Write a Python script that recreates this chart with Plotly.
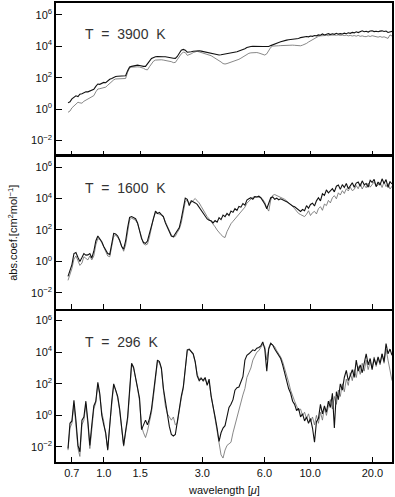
import plotly.graph_objects as go
from plotly.subplots import make_subplots

# wavelength grid in micron
wavelength = [
    0.671, 0.686, 0.701, 0.717, 0.733, 0.750, 0.766, 0.784, 0.801, 0.819,
    0.838, 0.856, 0.875, 0.895, 0.915, 0.936, 0.956, 0.978, 1.000, 1.022,
    1.045, 1.069, 1.093, 1.117, 1.142, 1.168, 1.194, 1.221, 1.248, 1.276,
    1.305, 1.334, 1.364, 1.394, 1.426, 1.458, 1.490, 1.524, 1.558, 1.593,
    1.628, 1.665, 1.703, 1.741, 1.780, 1.820, 1.860, 1.902, 1.945, 1.988,
    2.033, 2.078, 2.125, 2.173, 2.222, 2.271, 2.322, 2.374, 2.428, 2.482,
    2.538, 2.595, 2.653, 2.712, 2.773, 2.835, 2.899, 2.964, 3.030, 3.098,
    3.168, 3.238, 3.311, 3.385, 3.461, 3.539, 3.618, 3.699, 3.782, 3.867,
    3.954, 4.042, 4.133, 4.226, 4.320, 4.418, 4.516, 4.617, 4.721, 4.827,
    4.935, 5.045, 5.159, 5.274, 5.392, 5.513, 5.637, 5.763, 5.892, 6.025,
    6.160, 6.297, 6.439, 6.583, 6.730, 6.881, 7.036, 7.194, 7.354, 7.519,
    7.688, 7.861, 8.037, 8.219, 8.403, 8.591, 8.784, 8.981, 9.182, 9.389,
    9.598, 9.813, 10.03, 10.26, 10.49, 10.72, 10.96, 11.21, 11.46, 11.72,
    11.98, 12.25, 12.52, 12.81, 13.09, 13.39, 13.69, 13.99, 14.31, 14.63,
    14.96, 15.29, 15.63, 15.99, 16.34, 16.71, 17.08, 17.47, 17.86, 18.26,
    18.67, 19.09, 19.52, 19.95, 20.40, 20.86, 21.32, 21.80, 22.29, 22.79,
    23.30, 23.82, 24.35, 24.90,
]

# log10 of absorption coefficient [cm^2 mol^-1]
log_k3900_black = [
    0.40, 0.47, 0.65, 0.75, 0.85, 0.80, 0.95, 0.98, 1.03, 1.10,
    1.10, 1.15, 1.22, 1.26, 1.45, 1.60, 1.58, 1.65, 1.70, 1.68,
    1.80, 1.90, 1.95, 2.02, 2.08, 2.09, 2.09, 2.09, 2.10, 2.12,
    2.45, 2.68, 2.72, 2.75, 2.78, 2.80, 2.78, 2.74, 2.72, 2.72,
    2.85, 3.05, 3.22, 3.30, 3.33, 3.34, 3.35, 3.34, 3.33, 3.33,
    3.30, 3.28, 3.26, 3.24, 3.23, 3.35, 3.55, 3.75, 3.80, 3.75,
    3.62, 3.62, 3.65, 3.68, 3.70, 3.71, 3.71, 3.69, 3.66, 3.62,
    3.58, 3.56, 3.53, 3.51, 3.48, 3.46, 3.44, 3.46, 3.48, 3.50,
    3.53, 3.55, 3.57, 3.59, 3.62, 3.65, 3.70, 3.74, 3.79, 3.84,
    3.92, 3.97, 3.98, 3.99, 3.98, 3.98, 3.99, 3.97, 3.98, 3.98,
    3.99, 3.98, 4.04, 4.10, 4.15, 4.20, 4.24, 4.28, 4.33, 4.36,
    4.39, 4.41, 4.42, 4.44, 4.46, 4.47, 4.49, 4.55, 4.58, 4.60,
    4.62, 4.60, 4.65, 4.63, 4.68, 4.66, 4.72, 4.70, 4.78, 4.72,
    4.76, 4.80, 4.74, 4.79, 4.76, 4.82, 4.77, 4.80, 4.78, 4.83,
    4.80, 4.86, 4.82, 4.88, 4.85, 4.92, 4.87, 4.95, 4.98, 4.92,
    4.95, 4.90, 4.97, 4.98, 4.93, 4.95, 4.92, 4.96, 4.98, 4.94,
    4.97, 4.88, 4.93, 4.95,
]
log_k3900_gray = [
    -0.20, -0.12, 0.08, 0.22, 0.35, 0.44, 0.40, 0.38, 0.50, 0.58,
    0.63, 0.70, 0.78, 0.86, 1.10, 1.28, 1.30, 1.33, 1.36, 1.40,
    1.52, 1.65, 1.78, 1.86, 1.92, 1.92, 1.92, 1.92, 1.93, 1.95,
    2.35, 2.62, 2.67, 2.69, 2.70, 2.69, 2.68, 2.66, 2.60, 2.52,
    2.50, 2.70, 2.90, 3.05, 3.12, 3.14, 3.14, 3.14, 3.12, 3.10,
    3.08, 3.06, 3.02, 2.96, 2.97, 3.15, 3.38, 3.52, 3.62, 3.60,
    3.42, 3.45, 3.52, 3.60, 3.66, 3.68, 3.64, 3.60, 3.57, 3.53,
    3.50, 3.45, 3.40, 3.32, 3.25, 3.16, 3.08, 3.00, 2.90, 2.87,
    2.90, 2.94, 2.98, 3.02, 3.07, 3.12, 3.17, 3.24, 3.32, 3.42,
    3.50, 3.55, 3.58, 3.60, 3.60, 3.60, 3.57, 3.53, 3.48, 3.44,
    3.52, 3.75, 3.93, 4.01, 4.03, 4.03, 4.03, 4.04, 4.05, 4.06,
    4.07, 4.07, 4.07, 4.07, 4.06, 4.05, 4.04, 4.03, 4.07, 4.11,
    4.18, 4.27, 4.34, 4.44, 4.53, 4.60, 4.63, 4.66, 4.65, 4.68,
    4.69, 4.67, 4.71, 4.69, 4.71, 4.70, 4.72, 4.69, 4.71, 4.68,
    4.71, 4.66, 4.69, 4.65, 4.68, 4.64, 4.69, 4.63, 4.66, 4.62,
    4.61, 4.66, 4.62, 4.67, 4.63, 4.60, 4.58, 4.62, 4.57, 4.60,
    4.55, 4.50, 4.72, 4.65,
]
log_k1600_black = [
    -0.95, -0.60, -0.20, 0.50, 0.57, 0.25, 0.00, 0.25, 0.50, 0.40,
    0.42, 0.50, 0.22, 0.65, 1.30, 1.62, 1.45, 1.25, 0.95, 0.70,
    0.50, 0.45, 1.20, 1.78, 1.74, 1.62, 1.35, 0.95, 0.78, 1.30,
    2.15, 2.80, 2.85, 2.80, 2.72, 2.45, 1.95, 1.45, 1.20, 1.15,
    1.30, 1.80, 2.30, 2.85, 3.20, 3.05, 3.12, 2.98, 2.85, 2.45,
    2.15, 1.85, 1.62, 1.56, 1.75, 1.95, 2.15, 2.70, 3.40, 4.02,
    3.95, 3.55, 3.85, 3.80, 3.72, 3.63, 3.45, 3.28, 3.08, 2.90,
    2.70, 2.62, 2.58, 2.45, 2.60, 2.50, 2.78, 2.66, 2.95, 2.85,
    3.05, 2.92, 3.20, 3.12, 3.35, 3.24, 3.50, 3.45, 3.68, 3.58,
    3.90, 3.98, 4.05, 3.96, 4.12, 4.10, 4.15, 4.05, 3.85, 3.65,
    3.35, 3.70, 4.05, 4.10, 3.95, 4.02, 3.92, 3.98, 3.90, 3.85,
    3.80, 3.70, 3.64, 3.52, 3.47, 3.38, 3.32, 3.18, 3.30, 3.22,
    3.55, 3.38, 3.62, 3.70, 3.52, 3.85, 4.05, 3.85, 4.30, 4.20,
    4.55, 4.35, 4.48, 4.62, 4.42, 4.78, 4.85, 4.58, 4.88, 4.70,
    4.95, 4.62, 4.80, 5.00, 4.72, 4.98, 5.05, 4.78, 5.12, 4.88,
    4.95, 4.72, 5.15, 5.02, 5.22, 4.75, 5.05, 4.85, 5.25, 4.95,
    5.20, 4.70, 5.08, 4.92,
]
log_k1600_gray = [
    -1.20, -0.85, -0.45, 0.15, 0.35, 0.05, -0.25, -0.10, 0.30, 0.20,
    0.10, 0.35, 0.10, 0.35, 1.05, 1.45, 1.40, 1.20, 0.90, 0.60,
    0.35, 0.30, 0.95, 1.60, 1.65, 1.55, 1.30, 0.90, 0.65, 1.05,
    1.95, 2.65, 2.75, 2.70, 2.62, 2.40, 1.95, 1.40, 1.12, 1.05,
    1.10, 1.55, 2.15, 2.75, 3.10, 3.05, 3.05, 2.95, 2.80, 2.50,
    2.20, 1.92, 1.68, 1.55, 1.60, 1.85, 2.05, 2.45, 3.15, 3.80,
    3.90, 3.70, 3.75, 3.90, 4.00, 3.85, 3.72, 3.50, 3.25, 3.05,
    2.85, 2.70, 2.55, 2.40, 2.20, 2.00, 1.83, 1.70, 1.58, 1.52,
    1.90, 2.20, 2.40, 2.55, 2.70, 2.88, 3.02, 3.18, 3.30, 3.45,
    3.70, 3.85, 4.00, 4.08, 4.12, 4.10, 4.08, 4.05, 3.95, 3.75,
    3.40, 3.20, 3.90, 4.20, 4.25, 4.20, 4.12, 4.08, 4.02, 3.95,
    3.85, 3.75, 3.62, 3.50, 3.35, 3.20, 3.05, 2.98, 2.92, 2.85,
    3.00, 3.22, 2.92, 3.10, 3.18, 3.02, 3.35, 3.48, 3.25, 3.65,
    3.55, 3.88, 3.72, 4.05, 4.18, 3.98, 4.36, 4.22, 4.50, 4.32,
    4.62, 4.48, 4.72, 4.50, 4.58, 4.82, 4.62, 4.95, 4.60, 4.85,
    4.68, 4.98, 4.72, 4.90, 5.05, 4.78, 4.85, 5.02, 4.70, 5.05,
    4.75, 4.95, 4.60, 4.78,
]
log_k296_black = [
    -2.10, -0.50, -0.35, 0.95, -0.30, -1.90, -2.30, -0.30, -0.10, 0.90,
    -0.40, -1.90, -0.60, 0.60, 0.90, 2.10, 1.40, 0.00, -0.60, -1.10,
    -2.20, -0.40, 0.90, 2.00, 1.65, 1.20, 0.40, -0.80, -1.90, -1.00,
    -0.10, 1.60, 3.30, 3.05, 2.30, 1.60, 1.10, -0.90, -0.60, -0.30,
    -0.60, -0.20, 0.40, 1.40, 2.60, 3.50, 3.40, 3.00, 1.70, 0.80,
    0.20, -0.70, -1.20, -1.30, -1.20, -0.30, 0.55, 1.20, 1.80, 2.90,
    4.15, 4.20, 4.05, 3.90, 3.40, 2.50, 2.20, 2.35, 2.20, 2.40,
    1.90, 2.30, 1.20, 0.40, -0.10, -0.80, -1.65, -1.10, -0.80, -0.65,
    0.00, 0.50, 0.70, 1.00, 1.60, 1.75, 1.80, 2.10, 2.45, 3.50,
    3.80, 3.90, 4.00, 4.15, 4.10, 4.25, 4.30, 4.40, 4.65, 4.20,
    2.80, 4.20, 4.55, 4.45, 4.20, 4.00, 3.80, 3.60, 3.20, 2.70,
    2.20, 1.70, 1.40, 0.90, 0.70, 0.30, 0.45, -0.10, 0.10, -0.35,
    -0.10, -0.50, -0.20, -0.80, -1.70, -0.40, -0.20, 0.70, 0.10, 0.60,
    0.20, 0.90, 0.50, 1.40, -0.80, 1.50, 1.00, 2.00, 1.60, 2.40,
    2.85, 2.20, 2.50, 2.90, 2.40, 3.50, 2.80, 3.20, 2.70, 3.40,
    3.90, 3.20, 3.60, 2.90, 3.60, 3.20, 3.70, 3.30, 3.90, 3.40,
    4.55, 3.90, 4.20, 3.80,
]
log_k296_gray = [
    -2.20, -0.80, -0.50, 0.70, -0.60, -2.10, -2.60, -0.60, -0.30, 0.70,
    -0.60, -2.10, -0.90, 0.40, 0.80, 1.95, 1.30, 0.20, -0.40, -1.20,
    -2.10, -0.60, 0.70, 1.90, 1.60, 1.10, 0.30, -0.90, -1.95, -1.10,
    -0.30, 1.40, 3.15, 3.00, 2.40, 1.70, 0.90, -0.70, -1.10, -1.40,
    -1.00, -0.40, 0.20, 1.20, 2.50, 3.40, 3.35, 2.90, 1.60, 0.60,
    0.10, -0.10, -0.30, -0.10, -0.60, -0.50, 0.40, 1.10, 1.70, 2.80,
    4.10, 4.15, 4.00, 3.85, 3.35, 2.60, 2.30, 2.40, 2.15, 2.30,
    2.00, 2.10, 1.30, 0.50, -0.20, -1.00, -2.00, -2.50, -2.70, -2.20,
    -1.90, -1.80, -1.70, -1.10, -0.60, -0.15, 0.30, 0.80, 1.30, 1.70,
    2.40, 2.70, 3.00, 3.50, 3.75, 4.00, 4.10, 4.30, 4.50, 4.35,
    3.50, 4.30, 4.60, 4.45, 4.35, 4.10, 3.90, 3.70, 3.40, 3.00,
    2.50, 2.10, 1.60, 1.20, 0.90, 0.60, 0.30, 0.40, 0.00, 0.20,
    -0.20, 0.10, -0.40, -0.10, -0.60, 0.00, -0.50, 0.20, -0.30, 0.50,
    0.00, 0.60, 1.00, 0.40, 1.20, 0.70, 1.60, 1.20, 2.00, 1.50,
    2.30, 1.90, 2.70, 2.20, 2.90, 2.40, 3.10, 2.60, 3.30, 2.80,
    3.50, 2.90, 3.40, 3.00, 3.70, 3.10, 3.60, 3.20, 3.90, 3.30,
    4.20, 3.50, 2.80, 2.20,
]

panel_labels = ["T = 3900 K", "T = 1600 K", "T = 296 K"]
x_tickvals = [0.7, 1.0, 1.5, 3.0, 6.0, 10.0, 20.0]
x_ticktext = ["0.7", "1.0", "1.5", "3.0", "6.0", "10.0", "20.0"]
y_tickvals = [1e-2, 1e0, 1e2, 1e4, 1e6]
y_ticktext = ["10<sup>\u22122</sup>", "10<sup>0</sup>", "10<sup>2</sup>",
              "10<sup>4</sup>", "10<sup>6</sup>"]

panels = [
    (log_k3900_black, log_k3900_gray),
    (log_k1600_black, log_k1600_gray),
    (log_k296_black, log_k296_gray),
]

fig = make_subplots(rows=3, cols=1)
for i, (blk, gry) in enumerate(panels, start=1):
    fig.add_trace(go.Scatter(x=wavelength, y=[10 ** v for v in gry], mode="lines",
                             line=dict(color="#6a6a6a", width=0.8), showlegend=False),
                  row=i, col=1)
    fig.add_trace(go.Scatter(x=wavelength, y=[10 ** v for v in blk], mode="lines",
                             line=dict(color="#111111", width=1.1), showlegend=False),
                  row=i, col=1)

FONT = "Liberation Sans, Arial, sans-serif"
domains = [[0.668, 1.0], [0.334, 0.666], [0.0, 0.3297]]
yranges = [[-2.94, 6.75], [-3.0, 6.68], [-2.95, 6.63]]
for i in range(3):
    sfx = "" if i == 0 else str(i + 1)
    fig.layout["xaxis" + sfx].update(
        type="log", range=[-0.2314, 1.3962], tickvals=x_tickvals, ticktext=x_ticktext,
        ticks="inside", ticklen=5, tickwidth=1, tickcolor="black",
        showline=True, linecolor="black", linewidth=1.5, mirror=True,
        showgrid=False, zeroline=False, showticklabels=(i == 2),
        tickfont=dict(family=FONT, size=11, color="#111"),
    )
    fig.layout["yaxis" + sfx].update(
        type="log", range=yranges[i], domain=domains[i],
        tickvals=y_tickvals, ticktext=y_ticktext,
        ticks="inside", ticklen=6, tickwidth=1, tickcolor="black",
        showline=True, linecolor="black", linewidth=1.5, mirror=True,
        showgrid=False, zeroline=False,
        tickfont=dict(family=FONT, size=11, color="#111"),
    )

label_y = [0.933, 0.597, 0.2625]
for lab, yy in zip(panel_labels, label_y):
    fig.add_annotation(text=lab.replace(" ", "\u00a0\u00a0"), xref="paper", yref="paper",
                       x=0.079, y=yy, xanchor="left", yanchor="middle", showarrow=False,
                       font=dict(family=FONT, size=14, color="#333"))

fig.add_annotation(text="abs.coef.[cm<sup>2</sup>mol<sup>\u22121</sup>]", xref="paper", yref="paper",
                   x=-0.13, y=0.5, textangle=-90, showarrow=False, xanchor="center", yanchor="middle",
                   font=dict(family=FONT, size=11, color="#111"))
fig.add_annotation(text="wavelength [<i>\u03bc</i>]", xref="paper", yref="paper",
                   x=0.5, y=-0.061, showarrow=False, xanchor="center", yanchor="middle",
                   font=dict(family=FONT, size=11, color="#111"))

fig.update_layout(
    width=395, height=497,
    margin=dict(l=56, r=1, t=1, b=35),
    paper_bgcolor="white", plot_bgcolor="white",
    showlegend=False,
)
fig.write_html("out.html", config={"displayModeBar": False},
               post_script="document.body.style.margin='0';document.body.style.padding='0';")
